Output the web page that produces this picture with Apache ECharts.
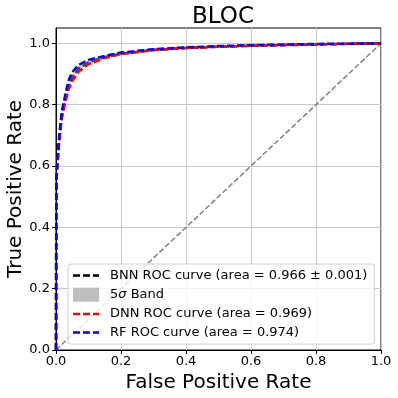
<!DOCTYPE html>
<html>
<head>
<meta charset="utf-8">
<script src="https://cdn.jsdelivr.net/npm/echarts@6/dist/echarts.min.js"></script>
<style>
  html, body { margin: 0; padding: 0; background: #fff; }
  #chart { width: 398px; height: 398px; }
</style>
</head>
<body>
<div id="chart"></div>
<script>
// false positive rate (shared by all curves)
const fpr = [0, 0.001, 0.004, 0.01, 0.018, 0.029, 0.039, 0.049, 0.07, 0.1, 0.15, 0.2, 0.3, 0.4, 0.5, 0.6, 0.7, 0.8, 0.9, 1.0];
const bnnTpr = [0, 0.55, 0.6, 0.69, 0.765, 0.82, 0.86, 0.888, 0.918, 0.938, 0.955, 0.966, 0.978, 0.985, 0.989, 0.992, 0.994, 0.996, 0.998, 1.0];
// half width of the 5 sigma band around the BNN curve
const bandHalf = [0, 0.006, 0.006, 0.006, 0.006, 0.006, 0.006, 0.006, 0.005, 0.005, 0.004, 0.004, 0.003, 0.003, 0.003, 0.002, 0.002, 0.002, 0.001, 0];
const dnnTpr = [0, 0.54, 0.6, 0.68, 0.755, 0.81, 0.85, 0.875, 0.908, 0.932, 0.952, 0.965, 0.978, 0.985, 0.989, 0.992, 0.995, 0.997, 0.999, 1.0];
const rfTpr = [0, 0.56, 0.62, 0.7, 0.78, 0.835, 0.88, 0.905, 0.93, 0.946, 0.959, 0.97, 0.981, 0.987, 0.991, 0.994, 0.996, 0.998, 0.999, 1.0];
const diagonal = [[0, 0], [1, 1]];
const tickValues = [0, 0.2, 0.4, 0.6, 0.8, 1.0];

const names = {
  bnn: 'BNN ROC curve (area = 0.966 ± 0.001)',
  band: '5σ Band',
  dnn: 'DNN ROC curve (area = 0.969)',
  rf: 'RF ROC curve (area = 0.974)'
};

const pairs = ys => fpr.map((x, i) => [x, ys[i]]);
const dashIcon = 'path://M0,0h7v2.5h-7z M10,0h7v2.5h-7z M20,0h6v2.5h-6z';
const font = 'DejaVu Sans';

// band rows: x, lower, upper
const bandData = fpr.map((x, i) => [x, bnnTpr[i] - bandHalf[i], bnnTpr[i] + bandHalf[i]]);

let chart = echarts.init(document.getElementById('chart'));
const option = {
  animation: false,
  backgroundColor: '#fff',
  title: {
    text: 'BLOC',
    left: 218, top: 1,
    textAlign: 'center',
    textStyle: { fontFamily: font, fontSize: 23, fontWeight: 'normal', color: '#000' }
  },
  grid: {
    left: 56, right: 17, top: 28, bottom: 48,
    outerBoundsMode: 'none',
    show: true, borderColor: '#000', borderWidth: 1
  },
  legend: {
    orient: 'vertical',
    left: 68, top: 264,
    padding: [5, 7, 5, 5],
    itemWidth: 26, itemHeight: 14, itemGap: 5.7,
    backgroundColor: 'rgba(255,255,255,0.8)',
    borderColor: '#d0d0d0', borderWidth: 1, borderRadius: 3,
    textStyle: {
      fontFamily: font, fontSize: 13, color: '#000', padding: [0, 0, 0, 6],
      rich: { i: { fontFamily: font, fontSize: 13, fontStyle: 'italic' } }
    },
    formatter: n => n === names.band ? '5{i|σ} Band' : n,
    data: [
      { name: names.bnn, icon: dashIcon, itemStyle: { color: '#000' } },
      { name: names.band, icon: 'rect', itemStyle: { color: '#bdbdbd' } },
      { name: names.dnn, icon: dashIcon, itemStyle: { color: '#ff0000' } },
      { name: names.rf, icon: dashIcon, itemStyle: { color: '#0000ff' } }
    ]
  },
  xAxis: {
    type: 'value', min: 0, max: 1, interval: 0.2,
    name: 'False Positive Rate', nameLocation: 'middle', nameGap: 23,
    nameMoveOverlap: false,
    nameTextStyle: { fontFamily: font, fontSize: 20, color: '#000' },
    axisLine: { lineStyle: { color: '#000' } },
    axisTick: { show: true, length: 4, inside: false, lineStyle: { color: '#000' } },
    axisLabel: { fontFamily: font, fontSize: 13, color: '#000', margin: 5, formatter: v => v.toFixed(1) },
    splitLine: { show: true, lineStyle: { color: '#c8c8c8', width: 1 } }
  },
  yAxis: {
    type: 'value', min: 0, max: 1.05, interval: 0.2,
    name: 'True Positive Rate', nameLocation: 'middle', nameGap: 30,
    nameMoveOverlap: false,
    nameTextStyle: { fontFamily: font, fontSize: 20, color: '#000' },
    axisLine: { lineStyle: { color: '#000' } },
    axisTick: { show: true, length: 4, inside: false, customValues: tickValues, lineStyle: { color: '#000' } },
    axisLabel: { fontFamily: font, fontSize: 13, color: '#000', margin: 6, customValues: tickValues, formatter: v => v.toFixed(1) },
    splitLine: { show: true, lineStyle: { color: '#c8c8c8', width: 1 } }
  },
  series: [
    {
      name: 'diagonal', type: 'line', data: diagonal, showSymbol: false, silent: true, z: 1,
      lineStyle: { color: '#808080', width: 1.5, type: [5.5, 2.4] }
    },
    {
      name: names.bnn, type: 'line', data: pairs(bnnTpr), showSymbol: false, z: 2,
      itemStyle: { color: '#000' },
      lineStyle: { color: '#000', width: 2.5, type: [7, 3] }
    },
    {
      name: names.band, type: 'custom', z: 3, silent: true,
      itemStyle: { color: '#bdbdbd' },
      data: bandData,
      encode: { x: 0, y: [1, 2] },
      renderItem: (params, api) => {
        if (params.dataIndex !== 0) return null;
        const upper = bandData.map(d => api.coord([d[0], d[2]]));
        const lower = bandData.map(d => api.coord([d[0], d[1]])).reverse();
        return {
          type: 'polygon',
          shape: { points: upper.concat(lower) },
          style: { fill: 'rgba(150,150,150,0.5)' }
        };
      }
    },
    {
      name: names.dnn, type: 'line', data: pairs(dnnTpr), showSymbol: false, z: 4,
      itemStyle: { color: '#ff0000' },
      lineStyle: { color: '#ff0000', width: 2.5, type: [7, 3] }
    },
    {
      name: names.rf, type: 'line', data: pairs(rfTpr), showSymbol: false, z: 5,
      itemStyle: { color: '#0000ff' },
      lineStyle: { color: '#0000ff', width: 2.5, type: [7, 3] }
    }
  ]
};

chart.setOption(option);
window.addEventListener('resize', () => {
  chart.resize();
});
</script>
</body>
</html>
